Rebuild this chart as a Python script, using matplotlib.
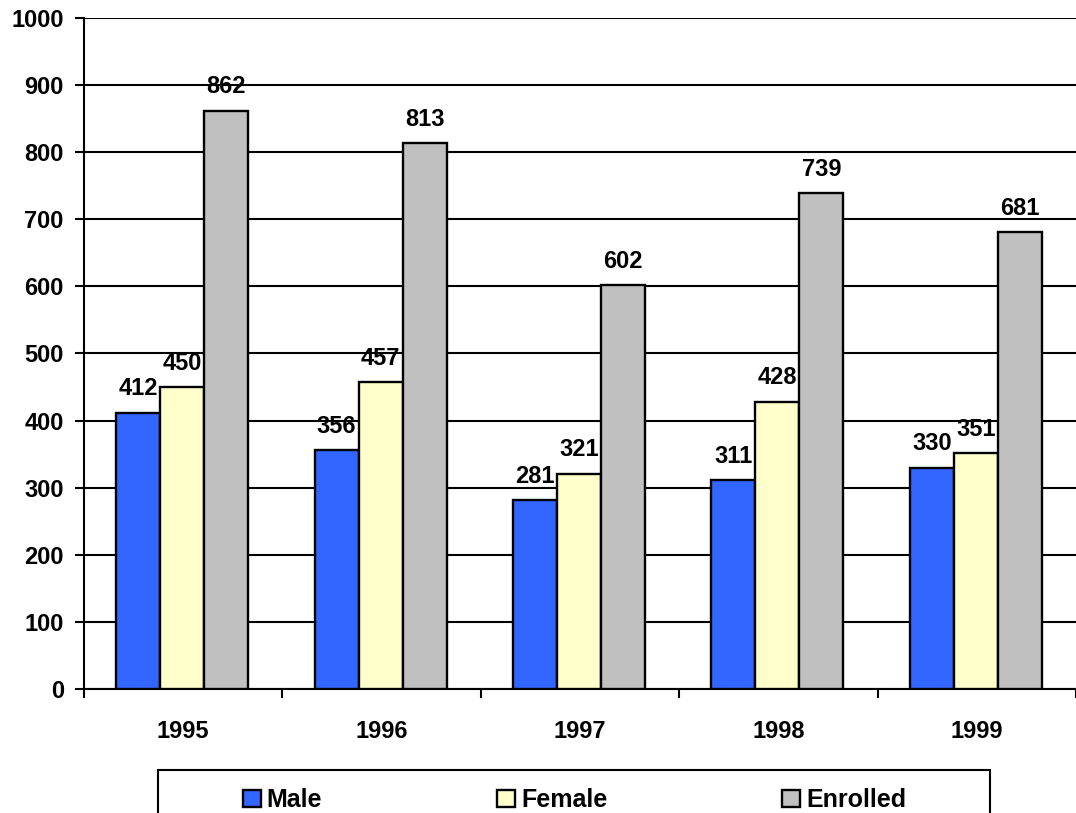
import numpy as np
import matplotlib
matplotlib.use('Agg')
import matplotlib.pyplot as plt
from matplotlib.patches import Rectangle

years = ['1995', '1996', '1997', '1998', '1999']
male = [412, 356, 281, 311, 330]
female = [450, 457, 321, 428, 351]
enrolled = [862, 813, 602, 739, 681]

series = [('Male', male, '#3366FF'),
          ('Female', female, '#FFFFCC'),
          ('Enrolled', enrolled, '#C0C0C0')]

plt.rcParams['font.family'] = ['Liberation Sans', 'DejaVu Sans']
plt.rcParams['font.weight'] = 'bold'
fs = 17

fig = plt.figure(figsize=(10.76, 8.13), dpi=100)
ax = fig.add_axes([84/1076, 1 - 689/813, 1 - 84/1076, (689 - 18)/813])

x = np.arange(len(years))
w = 0.222
for i, (name, vals, col) in enumerate(series):
    pos = x + (i - 1) * w - 0.005
    bars = ax.bar(pos, vals, w, color=col, edgecolor='black', linewidth=1.7,
                  label=name, zorder=3)
    for b, v in zip(bars, vals):
        ax.annotate(str(v), (b.get_x() + b.get_width() / 2, v),
                    xytext=(0, 9), textcoords='offset points',
                    ha='center', va='bottom', fontsize=fs, fontweight='bold')

ax.set_ylim(0, 1000)
ax.set_xlim(-0.5, 4.46)
ax.set_yticks(range(0, 1001, 100))
ax.yaxis.grid(True, color='black', linewidth=1.5, zorder=0)
ax.set_axisbelow(True)

ax.set_xticks(np.arange(-0.5, 5, 1))
ax.set_xticklabels([])
ax.set_xticks(x, minor=True)
ax.set_xticklabels(years, minor=True, fontsize=fs, fontweight='bold')
ax.tick_params(axis='x', which='minor', length=0, pad=22)
ax.tick_params(axis='x', which='major', length=6.5, width=1.5, direction='out')
ax.tick_params(axis='y', length=6.5, width=1.5, labelsize=fs, pad=8)
for lab in ax.get_yticklabels():
    lab.set_fontweight('bold')

for s in ['top', 'right']:
    ax.spines[s].set_visible(False)
for s in ['left', 'bottom']:
    ax.spines[s].set_linewidth(1.5)

# legend box (runs off the bottom of the image)
fig.patches.append(Rectangle((158/1076, -0.05), (990 - 158)/1076, 0.05 + 1 - 770/813,
                             transform=fig.transFigure, facecolor='white',
                             edgecolor='black', linewidth=1.5, zorder=1))
leg = fig.legend(loc='upper left', ncol=3,
                 bbox_to_anchor=(243/1076, 1 - 788/813),
                 prop={'size': fs + 1, 'weight': 'bold'}, frameon=False,
                 handlelength=0.7, handleheight=0.7, handletextpad=0.25,
                 columnspacing=7.0, borderpad=0, borderaxespad=0)
leg.set_zorder(2)

fig.savefig('out.png', dpi=100)
